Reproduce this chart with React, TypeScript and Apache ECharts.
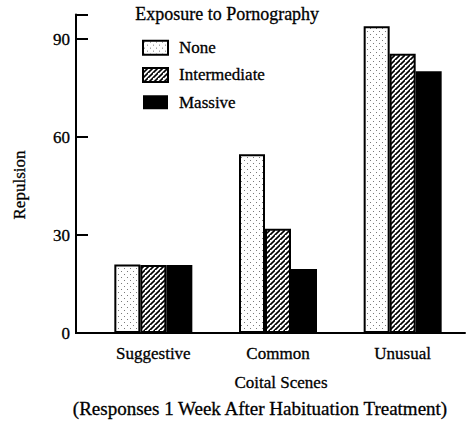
import React, { useEffect, useRef } from "react";
import * as echarts from "echarts";

const categories = ["Suggestive", "Common", "Unusual"];
const seriesNames = ["None", "Intermediate", "Massive"];
const noneValues = [21, 54.7, 93.9];
const intermediateValues = [20.8, 31.9, 85.5];
const massiveValues = [20.8, 19.6, 80.1];
const yTicks = [0, 30, 60, 90];

const FONT = "Liberation Serif";
const INK = { textBorderColor: "#000", textBorderWidth: 0.3 };

function makeDots(): HTMLCanvasElement {
  const c = document.createElement("canvas");
  c.width = 6;
  c.height = 6;
  const g = c.getContext("2d")!;
  g.fillStyle = "#ffffff";
  g.fillRect(0, 0, 6, 6);
  g.fillStyle = "#7a7a7a";
  g.fillRect(1, 1, 1, 1);
  g.fillRect(4, 4, 1, 1);
  return c;
}

function makeHatch(): HTMLCanvasElement {
  const s = 5;
  const c = document.createElement("canvas");
  c.width = s;
  c.height = s;
  const g = c.getContext("2d")!;
  g.fillStyle = "#ffffff";
  g.fillRect(0, 0, s, s);
  g.strokeStyle = "#000000";
  g.lineWidth = 1.6;
  g.beginPath();
  g.moveTo(-1, s + 1);
  g.lineTo(s + 1, -1);
  g.moveTo(-s - 1, 1);
  g.lineTo(1, -s - 1);
  g.moveTo(-1, 2 * s + 1);
  g.lineTo(2 * s + 1, -1);
  g.stroke();
  return c;
}

export default function App() {
  const ref = useRef<HTMLDivElement>(null);
  useEffect(() => {
    document.body.style.margin = "0";
    const chart = echarts.init(ref.current!, null, { renderer: "svg" });
    const dots = { image: makeDots(), repeat: "repeat" } as any;
    const hatch = { image: makeHatch(), repeat: "repeat" } as any;
    const styles = [
      { color: dots, borderColor: "#000", borderWidth: 2 },
      { color: hatch, borderColor: "#000", borderWidth: 2 },
      { color: "#000", borderColor: "#000", borderWidth: 0 },
    ];
    const values = [noneValues, intermediateValues, massiveValues];
    chart.setOption({
      animation: false,
      backgroundColor: "#ffffff",
      textStyle: { fontFamily: FONT, color: "#000" },
      grid: { left: 91, right: 3, top: 14.5, bottom: 94 },
      legend: {
        orient: "vertical",
        left: 137,
        top: 34,
        itemWidth: 25,
        itemHeight: 14,
        itemGap: 10,
        icon: "rect",
        data: seriesNames,
        textStyle: {
          fontFamily: FONT,
          fontSize: 17,
          lineHeight: 17,
          color: "#000",
          padding: [0, 0, 0, 6],
          ...INK,
        },
      },
      xAxis: {
        type: "category",
        data: categories,
        axisLine: { lineStyle: { color: "#000", width: 2 } },
        axisTick: { show: false },
        axisLabel: { interval: 0, fontFamily: FONT, fontSize: 17, color: "#000", margin: 12, ...INK },
      },
      yAxis: {
        type: "value",
        min: 0,
        max: 97.5,
        interval: 30,
        offset: 15,
        axisLine: { show: true, lineStyle: { color: "#000", width: 2 } },
        axisTick: { show: true, inside: true, length: 12, lineStyle: { color: "#000", width: 2 } },
        axisLabel: {
          fontFamily: FONT,
          fontSize: 17,
          color: "#000",
          margin: 6,
          ...INK,
          formatter: (v: number) => (yTicks.includes(v) ? String(v) : ""),
        },
        splitLine: { show: false },
      },
      series: seriesNames.map((name, i) => ({
        name,
        type: "bar",
        data: values[i],
        barWidth: 26,
        barGap: "0%",
        itemStyle: styles[i],
      })),
      graphic: [
        {
          type: "text",
          left: 135,
          top: 5,
          style: { text: "Exposure to Pornography", font: `18px "${FONT}"`, fill: "#000", stroke: "#000", lineWidth: 0.3 },
        },
        {
          type: "text",
          x: 19,
          y: 185,
          rotation: Math.PI / 2,
          style: {
            text: "Repulsion",
            font: `17px "${FONT}"`,
            fill: "#000",
            stroke: "#000",
            lineWidth: 0.3,
            align: "center",
            verticalAlign: "middle",
          },
        },
        {
          type: "line",
          shape: { x1: 75, y1: 333, x2: 92, y2: 333 },
          style: { stroke: "#000", lineWidth: 2 },
        },
        {
          type: "text",
          x: 281,
          y: 382,
          style: {
            text: "Coital Scenes",
            font: `17px "${FONT}"`,
            fill: "#000",
            stroke: "#000",
            lineWidth: 0.3,
            align: "center",
            verticalAlign: "middle",
          },
        },
        {
          type: "text",
          x: 260,
          y: 408,
          style: {
            text: "(Responses 1 Week After Habituation Treatment)",
            font: `19px "${FONT}"`,
            fill: "#000",
            stroke: "#000",
            lineWidth: 0.3,
            align: "center",
            verticalAlign: "middle",
          },
        },
      ],
    });
    return () => chart.dispose();
  }, []);
  return <div ref={ref} style={{ width: 468, height: 427 }} />;
}
